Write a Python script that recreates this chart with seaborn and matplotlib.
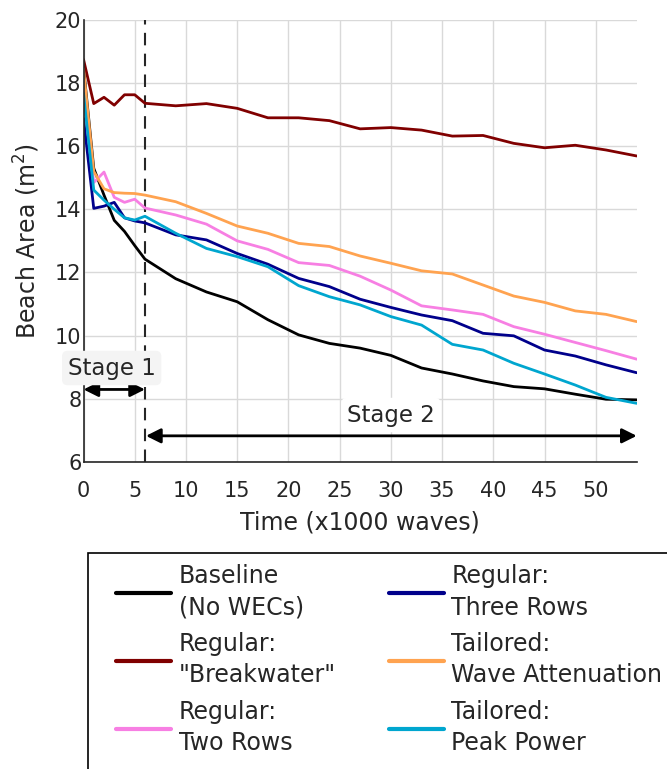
import numpy as np
import pandas as pd
import matplotlib
matplotlib.use("Agg")
import matplotlib.pyplot as plt
from matplotlib.patches import Rectangle
import seaborn as sns

# time in thousands of waves
time = [0, 1, 2, 3, 4, 5, 6, 9, 12, 15, 18, 21, 24, 27, 30, 33, 36, 39, 42, 45, 48, 51, 54]

baseline = [18.5, 15.3, 14.45, 13.65, 13.3, 12.85, 12.42, 11.8, 11.38, 11.07, 10.5, 10.02,
            9.75, 9.6, 9.37, 8.97, 8.78, 8.56, 8.38, 8.31, 8.14, 7.98, 7.96]
breakwater = [18.75, 17.35, 17.55, 17.3, 17.63, 17.63, 17.36, 17.28, 17.35, 17.2, 16.9, 16.9,
              16.81, 16.55, 16.59, 16.51, 16.32, 16.34, 16.09, 15.95, 16.03, 15.88, 15.69]
two_rows = [17.8, 14.85, 15.18, 14.38, 14.22, 14.32, 14.04, 13.82, 13.53, 13.0, 12.73, 12.31,
            12.22, 11.88, 11.44, 10.94, 10.81, 10.67, 10.28, 10.04, 9.78, 9.52, 9.25]
three_rows = [16.88, 14.03, 14.1, 14.22, 13.73, 13.63, 13.57, 13.19, 13.03, 12.6, 12.26, 11.81,
              11.55, 11.15, 10.89, 10.65, 10.47, 10.07, 9.99, 9.54, 9.35, 9.07, 8.82]
wave_att = [18.45, 15.2, 14.65, 14.53, 14.51, 14.5, 14.45, 14.24, 13.87, 13.47, 13.24, 12.92,
            12.82, 12.52, 12.29, 12.05, 11.95, 11.6, 11.25, 11.05, 10.78, 10.67, 10.44]
peak_power = [17.68, 14.61, 14.29, 14.0, 13.73, 13.66, 13.78, 13.24, 12.76, 12.5, 12.18, 11.58,
              11.23, 10.97, 10.6, 10.33, 9.72, 9.54, 9.12, 8.78, 8.43, 8.04, 7.85]

labels = ['Baseline\n(No WECs)', 'Regular:\n"Breakwater"', 'Regular:\nTwo Rows',
          'Regular:\nThree Rows', 'Tailored:\nWave Attenuation', 'Tailored:\nPeak Power']
colors = ['#000000', '#800000', '#F77FE3', '#00008B', '#FFA350', '#00A6CF']
series = [baseline, breakwater, two_rows, three_rows, wave_att, peak_power]

df = pd.concat([pd.DataFrame({'time': time, 'area': s, 'case': lab})
                for s, lab in zip(series, labels)], ignore_index=True)

sns.set_style("white")
plt.rcParams['font.family'] = ['DejaVu Sans']

W, H = 667, 769
fig = plt.figure(figsize=(W / 100, H / 100), dpi=100)
ax = fig.add_axes([0.1252, 0.3996, 0.8294, 0.5744])

sns.lineplot(data=df, x='time', y='area', hue='case', hue_order=labels,
             palette=dict(zip(labels, colors)), linewidth=2, ax=ax, legend=True)

ax.set_xlim(0, 54)
ax.set_ylim(6, 20)
ax.set_xticks(np.arange(0, 51, 5))
ax.set_yticks(np.arange(6, 21, 2))
ax.grid(True, color='#d9d9d9', linewidth=1)
ax.set_axisbelow(True)
for side in ['top', 'right']:
    ax.spines[side].set_visible(False)
for side in ['left', 'bottom']:
    ax.spines[side].set_color('#262626')
    ax.spines[side].set_linewidth(1.2)
ax.tick_params(direction='in', length=5, width=1.2, labelsize=15, colors='#262626',
               labelcolor='#262626')
ax.tick_params(axis='x', pad=14)
ax.tick_params(axis='y', pad=1.5)
ax.set_xlabel('Time (x1000 waves)', fontsize=17, color='#262626', labelpad=7)
ax.set_ylabel('Beach Area (m$^2$)', fontsize=17, color='#262626', labelpad=9)

# stage divider
ax.axvline(6, color='#262626', linestyle=(0, (6, 4)), linewidth=1.5, zorder=1)

# stage arrows and labels
ax.annotate('', xy=(0, 8.29), xytext=(6, 8.29),
            arrowprops=dict(arrowstyle='<|-|>', color='black', lw=2, mutation_scale=22,
                            shrinkA=0, shrinkB=0))
ax.annotate('', xy=(6.1, 6.82), xytext=(54, 6.82),
            arrowprops=dict(arrowstyle='<|-|>', color='black', lw=2, mutation_scale=22,
                            shrinkA=0, shrinkB=0), annotation_clip=False)
ax.text(2.75, 8.97, 'Stage 1', fontsize=16.5, ha='center', va='center', color='#262626',
        bbox=dict(boxstyle='round,pad=0.25', fc='#f4f4f4', ec='none'), clip_on=False)
ax.text(30, 7.48, 'Stage 2', fontsize=16.5, ha='center', va='center', color='#262626',
        bbox=dict(boxstyle='round,pad=0.25', fc='white', ec='none'))

handles, labs = ax.get_legend_handles_labels()
ax.get_legend().remove()
leg = fig.legend(handles, labs, loc='upper left', bbox_to_anchor=(116 / W, 1 - 564 / H),
                 ncol=2, fontsize=17, frameon=False,
                 handlelength=2.35, handletextpad=0.3, columnspacing=2.25,
                 borderpad=0, borderaxespad=0, labelspacing=0.52)
for line in leg.get_lines():
    line.set_linewidth(3)
for txt in leg.get_texts():
    txt.set_linespacing(1.4)
    txt.set_color('#262626')

# legend box runs past the right and bottom edges of the figure
fig.patches.append(Rectangle((88 / W, -0.05), 0.9, 1 - 552.7 / H + 0.05,
                             transform=fig.transFigure, fill=False, edgecolor='black',
                             linewidth=1.2))

fig.savefig('out.png', dpi=100)
